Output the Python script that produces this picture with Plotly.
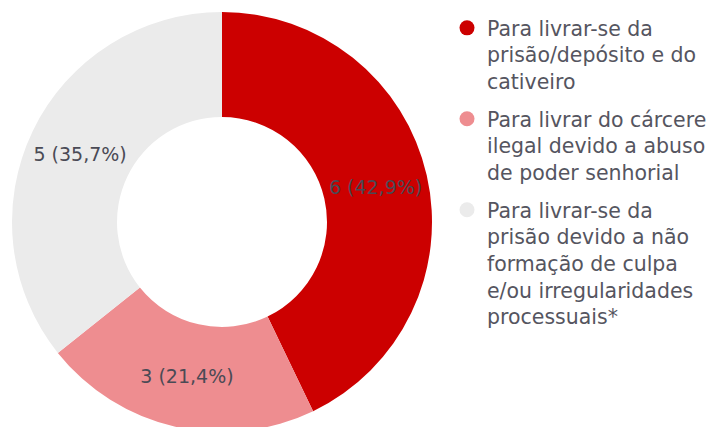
import plotly.graph_objects as go

labels = [
    "Para livrar-se da<br>prisão/depósito e do<br>cativeiro",
    "Para livrar do cárcere<br>ilegal devido a abuso<br>de poder senhorial",
    "Para livrar-se da<br>prisão devido a não<br>formação de culpa<br>e/ou irregularidades<br>processuais*",
]
values = [6, 3, 5]
colors = ["#cc0000", "#ee8d90", "#ebebeb"]

W, H = 712, 440

fig = go.Figure()
fig.add_trace(go.Pie(
    labels=labels,
    values=values,
    hole=0.5,
    sort=False,
    direction="clockwise",
    rotation=0,
    marker=dict(colors=colors, line=dict(width=0)),
    texttemplate="%{value} (%{percent:.1%})",
    textposition="inside",
    insidetextorientation="horizontal",
    textfont=dict(family="DejaVu Sans", size=19, color="#4a4a55"),
    domain=dict(x=[12 / W, 432 / W], y=[(H - 432) / H, (H - 12) / H]),
    showlegend=False,
    hoverinfo="skip",
))
for i, (lab, col) in enumerate(zip(labels, colors)):
    fig.add_trace(go.Scatter(
        x=[None], y=[None], mode="markers", name=lab,
        legendgroup=f"g{i}",
        marker=dict(symbol="circle", size=15, color=col),
    ))

fig.update_layout(
    width=W, height=H,
    margin=dict(l=0, r=0, t=0, b=0),
    paper_bgcolor="white", plot_bgcolor="white",
    separators=",.",
    xaxis=dict(visible=False), yaxis=dict(visible=False),
    legend=dict(
        x=0.628, y=1 - 8 / H, xanchor="left", yanchor="top",
        valign="top",
        tracegroupgap=8,
        font=dict(family="DejaVu Sans", size=20.5, color="#555560"),
        bgcolor="rgba(0,0,0,0)",
    ),
)

fig.write_html(
    "out.html",
    post_script="document.body.style.overflow='hidden';document.documentElement.style.overflow='hidden';document.body.style.margin='0';",
)
